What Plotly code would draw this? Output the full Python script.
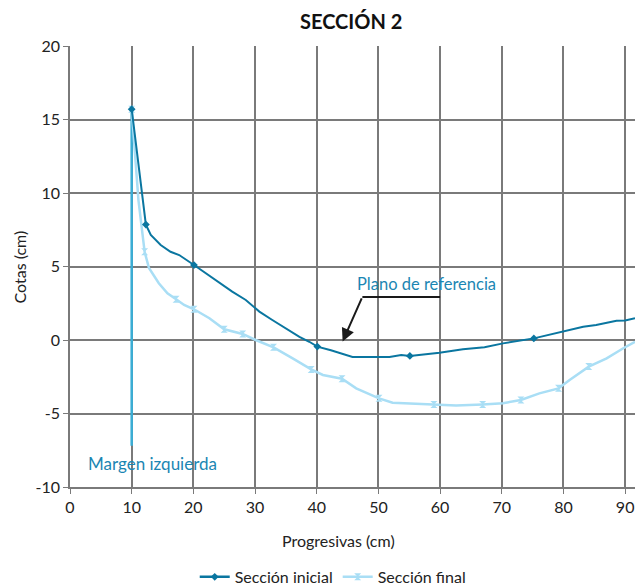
import plotly.graph_objects as go

# Sección inicial (dark series): full line points
ini_x = [10, 12.3, 13.1, 14.7, 16.3, 17.7, 20.1, 22.0, 24.2, 26.3, 28.5, 30.7, 32.8, 35.0, 37.2, 38.8,
         40.1, 42.3, 45.8, 48.5, 51.8, 53.7, 55.1, 59.9, 63.7, 67.2, 70.2, 75.2, 79.9, 83.2, 85.3,
         88.6, 90.0, 91.6]
ini_y = [15.7, 7.85, 7.14, 6.46, 6.0, 5.78, 5.1, 4.54, 3.86, 3.29, 2.72, 1.93, 1.36, 0.8, 0.22, -0.12,
         -0.45, -0.7, -1.15, -1.15, -1.15, -1.02, -1.08, -0.86, -0.63, -0.5, -0.23, 0.11, 0.57, 0.9, 1.02,
         1.31, 1.33, 1.48]
ini_mx = [10, 12.3, 20.1, 40.1, 55.1, 75.2]
ini_my = [15.7, 7.85, 5.1, -0.45, -1.08, 0.11]

# Sección final (light series)
fin_x = [10, 10.9, 11.1, 12.1, 12.8, 14.4, 15.8, 17.2, 18.5, 20.1, 22.6, 25.0, 28.0, 30.1, 33.0, 36.1,
         39.1, 41.0, 44.1, 46.4, 50.1, 52.3, 59.0, 62.6, 66.9, 70.2, 73.1, 76.1, 79.2, 81.0, 84.1,
         87.0, 89.7, 91.6]
fin_y = [15.7, 10.2, 9.5, 6.0, 4.9, 3.86, 3.17, 2.77, 2.38, 2.09, 1.48, 0.73, 0.41, 0.0, -0.5, -1.25,
         -2.0, -2.38, -2.63, -3.29, -3.97, -4.27, -4.38, -4.45, -4.38, -4.3, -4.08, -3.63, -3.29, -2.72, -1.81,
         -1.25, -0.56, -0.12]
fin_mx = [10, 12.1, 17.2, 20.1, 25.0, 28.0, 33.0, 39.1, 44.1, 50.1, 59.0, 66.9, 73.1, 79.2, 84.1]
fin_my = [15.7, 6.0, 2.77, 2.09, 0.73, 0.41, -0.5, -2.0, -2.63, -3.97, -4.38, -4.38, -4.08, -3.29, -1.81]

# Margen izquierda (vertical bank line)
margen_x = [10, 10]
margen_y = [15.7, -7.2]

x_ticks = [0, 10, 20, 30, 40, 50, 60, 70, 80, 90]
y_ticks = [-10, -5, 0, 5, 10, 15, 20]
y_labels = ["-10", "-5", "0", "5", "10", "15", "20"]

DARK = "#0a76a0"
LIGHT = "#a9def5"
MID = "#3aaed6"
GRID = "#7a7a7a"
FONT = "Lato"

fig = go.Figure()

fig.add_trace(go.Scatter(x=margen_x, y=margen_y, mode="lines",
                         line=dict(color=MID, width=2.5), showlegend=False, hoverinfo="skip"))

fig.add_trace(go.Scatter(x=fin_x, y=fin_y, mode="lines",
                         line=dict(color=LIGHT, width=2.5), showlegend=False))
fig.add_trace(go.Scatter(x=fin_mx, y=fin_my, mode="markers",
                         marker=dict(color=LIGHT, size=7, symbol="hourglass"), showlegend=False))

fig.add_trace(go.Scatter(x=ini_x, y=ini_y, mode="lines",
                         line=dict(color=DARK, width=2), showlegend=False))
fig.add_trace(go.Scatter(x=ini_mx, y=ini_my, mode="markers",
                         marker=dict(color=DARK, size=6, symbol="diamond"), showlegend=False))

# legend entries
fig.add_trace(go.Scatter(x=[None], y=[None], mode="lines+markers", name="Sección inicial",
                         line=dict(color=DARK, width=2.5), marker=dict(color=DARK, size=6, symbol="diamond")))
fig.add_trace(go.Scatter(x=[None], y=[None], mode="lines+markers", name="Sección final",
                         line=dict(color=LIGHT, width=2.5), marker=dict(color=LIGHT, size=7, symbol="hourglass")))

# callout line for "Plano de referencia"
fig.add_shape(type="line", x0=47.4, y0=2.93, x1=60.0, y1=2.93, xref="x", yref="y",
              line=dict(color="#1a1a1a", width=2))
fig.add_annotation(x=44.2, y=-0.1, ax=47.4, ay=2.93, axref="x", ayref="y", xref="x", yref="y",
                   text="", showarrow=True, arrowhead=2, arrowsize=1.3, arrowwidth=2, arrowcolor="#1a1a1a")
fig.add_annotation(x=57.8, y=3.8, xref="x", yref="y", text="Plano de referencia", showarrow=False,
                   font=dict(family=FONT, size=16.5, color="#1b86b3"))
fig.add_annotation(x=13.3, y=-8.4, xref="x", yref="y", text="Margen izquierda", showarrow=False,
                   font=dict(family=FONT, size=17, color="#1b86b3"))

# axis titles
fig.add_annotation(x=0.476, y=-0.122, xref="paper", yref="paper", text="Progresivas (cm)",
                   showarrow=False, yanchor="middle", font=dict(family=FONT, size=16, color="#222222"))
fig.add_annotation(x=-0.0885, y=0.5, xref="paper", yref="paper", text="Cotas (cm)", textangle=-90,
                   showarrow=False, xanchor="center", font=dict(family=FONT, size=16, color="#222222"))

fig.update_layout(
    width=635, height=585,
    margin=dict(l=70, r=0, t=46, b=98, autoexpand=False),
    paper_bgcolor="white", plot_bgcolor="white",
    font=dict(family=FONT, size=15, color="#222222"),
    title=dict(text="<b>SECCIÓN 2</b>", x=0.553, xanchor="center", y=0.962, yanchor="middle",
               font=dict(family=FONT, size=20, color="#111111")),
    showlegend=True,
    legend=dict(orientation="h", x=0.465, xanchor="center", y=-0.204, yanchor="middle",
                font=dict(family=FONT, size=16, color="#222222"), itemwidth=30,
                tracegroupgap=0),
    xaxis=dict(range=[0, 91.6], tickvals=x_ticks, showgrid=True, gridcolor=GRID, gridwidth=1.5,
               showline=True, linecolor=GRID, linewidth=1.5, ticks="outside", ticklen=5,
               tickcolor=GRID, zeroline=False, tickfont=dict(size=16), automargin=False),
    yaxis=dict(range=[-10, 20], tickvals=y_ticks, ticktext=y_labels, showgrid=True, gridcolor=GRID,
               gridwidth=1.5, showline=True, linecolor=GRID, linewidth=1.5, ticks="outside", ticklen=5,
               tickcolor=GRID, zeroline=False, tickfont=dict(size=16), automargin=False),
)

fig.write_html("out.html")
